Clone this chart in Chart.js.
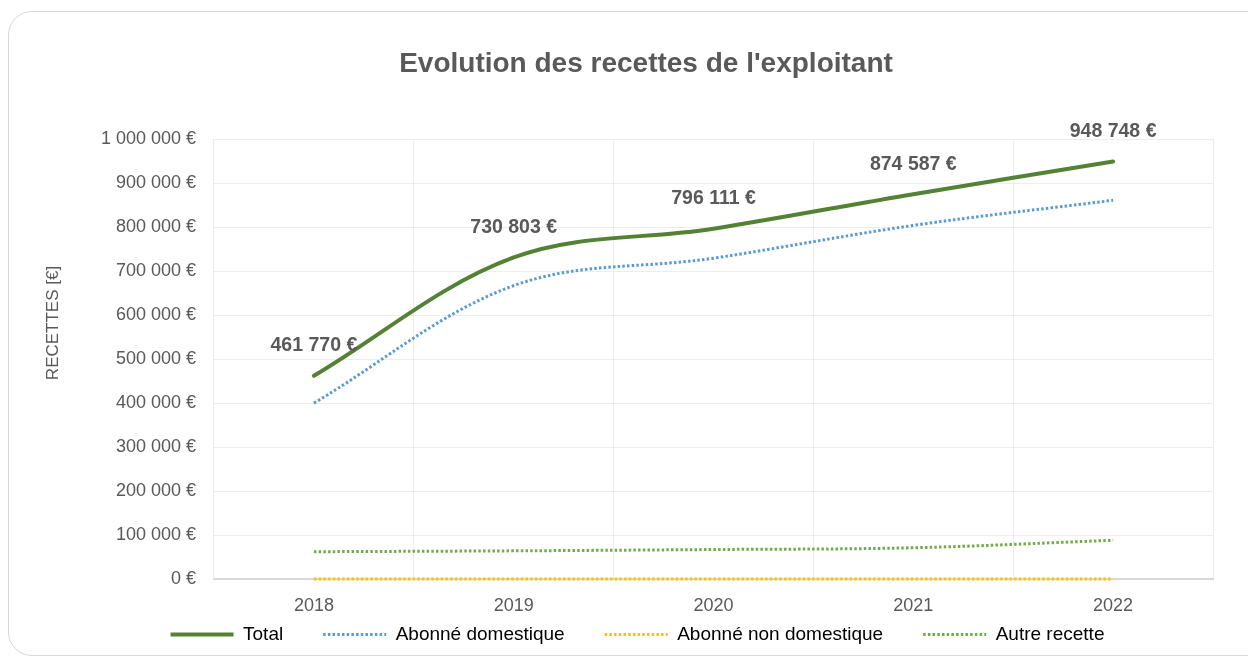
<!DOCTYPE html>
<html>
<head>
<meta charset="utf-8">
<script src="https://cdn.jsdelivr.net/npm/chart.js@4.4.0/dist/chart.umd.min.js"></script>
<style>
  html, body { margin: 0; padding: 0; background: #fff; }
  #card {
    position: absolute; left: 8px; top: 11px; width: 1270px; height: 645px;
    border: 1.5px solid #d9d9d9; border-radius: 24px; box-sizing: border-box;
  }
  #wrap { position: absolute; left: 0; top: 0; width: 1248px; height: 660px; }
</style>
</head>
<body>
<div id="card"></div>
<div id="wrap"><canvas id="canvas-1" width="1248" height="660"></canvas></div>
<script>
  var years = ['2018', '2019', '2020', '2021', '2022'];
  var total = [461770, 730803, 796111, 874587, 948748];
  var domestique = [399770, 666803, 729111, 803587, 860748];
  var nonDomestique = [0, 0, 0, 0, 0];
  var autre = [62000, 64000, 67000, 71000, 88000];

  var font = "'Liberation Sans', Arial, sans-serif";
  var grey = '#595959';

  var euro = function(v) {
    return String(v).replace(/\B(?=(\d{3})+(?!\d))/g, ' ') + ' €';
  };

  // titre, titre de l'axe Y et etiquettes de valeur de la courbe Total
  var extras = {
    id: 'extras',
    afterDatasetsDraw: function(chart) {
      var ctx = chart.ctx;
      var meta = chart.getDatasetMeta(0);
      ctx.save();
      ctx.fillStyle = grey;
      ctx.textAlign = 'center';
      ctx.textBaseline = 'middle';

      ctx.font = 'bold 28px ' + font;
      ctx.fillText("Evolution des recettes de l'exploitant", 646, 64);

      ctx.font = 'bold 19.5px ' + font;
      meta.data.forEach(function(pt, i) {
        ctx.fillText(euro(total[i]), pt.x, pt.y - 30);
      });

      ctx.translate(53, 323);
      ctx.rotate(-Math.PI / 2);
      ctx.font = '17px ' + font;
      ctx.fillText('RECETTES [€]', 0, 0);
      ctx.restore();
    }
  };

  var dot = [2.5, 2.2];

  var ctx = document.getElementById('canvas-1');
  var chart = new Chart(ctx, {
    type: 'line',
    data: {
      labels: years,
      datasets: [
        { label: 'Total', data: total, borderColor: '#548235', backgroundColor: '#548235', borderWidth: 4, borderCapStyle: 'round' },
        { label: 'Abonné domestique', data: domestique, borderColor: '#5B9BD5', backgroundColor: '#5B9BD5', borderWidth: 3, borderDash: dot },
        { label: 'Abonné non domestique', data: nonDomestique, borderColor: '#FFC000', backgroundColor: '#FFC000', borderWidth: 3, borderDash: dot },
        { label: 'Autre recette', data: autre, borderColor: '#70AD47', backgroundColor: '#70AD47', borderWidth: 3, borderDash: dot }
      ]
    },
    plugins: [extras],
    options: {
      responsive: false,
      animation: false,
      layout: { padding: { left: 62, right: 35, top: 139, bottom: 6 } },
      datasets: { line: { clip: false } },
      elements: {
        point: { radius: 0 },
        line: { tension: 0.35 }
      },
      plugins: {
        tooltip: { enabled: false },
        title: { display: false },
        legend: {
          position: 'bottom',
          labels: {
            color: '#000',
            font: { family: font, size: 19 },
            usePointStyle: true,
            pointStyle: 'line',
            pointStyleWidth: 63,
            boxHeight: 10,
            padding: 40,
            generateLabels: function(chart) {
              var items = Chart.defaults.plugins.legend.labels.generateLabels(chart);
              items.forEach(function(it, i) {
                var ds = chart.data.datasets[i];
                it.lineDash = ds.borderDash || [];
                it.lineWidth = ds.borderWidth;
                it.strokeStyle = ds.borderColor;
              });
              return items;
            }
          }
        }
      },
      scales: {
        x: {
          offset: true,
          grid: { offset: true, color: '#ededed', drawTicks: false },
          border: { color: '#d9d9d9', width: 2 },
          ticks: { color: grey, font: { family: font, size: 18 }, padding: 16 },
          afterFit: function(s) {
            s.height = 6;
            // ne pas couper les libelles qui debordent de la boite de l'axe
            s._computeLabelArea = function() { return undefined; };
          }
        },
        y: {
          min: 0,
          max: 1000000,
          ticks: {
            stepSize: 100000,
            color: grey,
            font: { family: font, size: 18 },
            padding: 18,
            callback: function(v) { return euro(v); }
          },
          grid: { color: '#ededed', drawTicks: false },
          border: { display: false },
          afterFit: function(s) { s.width = 152; }
        }
      }
    }
  });
</script>
</body>
</html>
